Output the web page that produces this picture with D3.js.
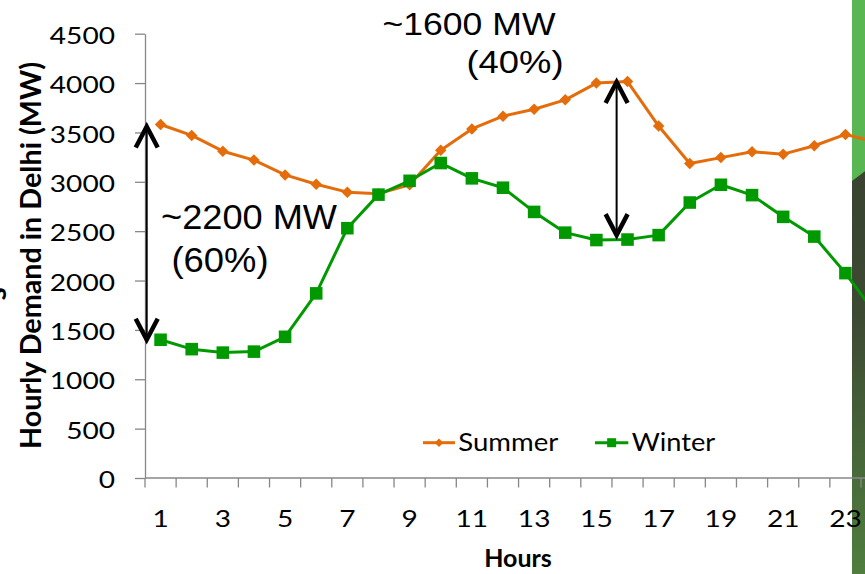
<!DOCTYPE html>
<html>
<head>
<meta charset="utf-8">
<script src="https://cdn.jsdelivr.net/npm/d3@7"></script>
<style>
  html, body { margin: 0; padding: 0; background: #ffffff; overflow: hidden; }
  svg { display: block; }
</style>
</head>
<body>
<svg id="chart" width="865" height="574"></svg>
<script>
// Hourly electricity demand in Delhi, summer vs winter (MW)
const hours = [1, 2, 3, 4, 5, 6, 7, 8, 9, 10, 11, 12, 13, 14, 15, 16, 17, 18, 19, 20, 21, 22, 23, 24];
const summer = [3580, 3470, 3310, 3220, 3070, 2975, 2895, 2880, 2970, 3320, 3535, 3665,
                3735, 3830, 4000, 4015, 3565, 3185, 3245, 3305, 3280, 3365, 3480, 3400];
const winter = [1400, 1305, 1270, 1280, 1430, 1870, 2530, 2870, 3010, 3190, 3035, 2940,
                2695, 2485, 2410, 2415, 2460, 2790, 2970, 2865, 2645, 2445, 2075, 1650];
const xTickLabels = [1, 3, 5, 7, 9, 11, 13, 15, 17, 19, 21, 23];
const yTicks = [0, 500, 1000, 1500, 2000, 2500, 3000, 3500, 4000, 4500];
const seriesNames = ["Summer", "Winter"];

// Night-time and daytime gaps between the two seasons
const nightGap = [3560, 1400];
const dayGap = [4010, 2460];
const nightGapText = ["~2200 MW", "(60%)"];
const dayGapText = ["~1600 MW", "(40%)"];

const svg = d3.select("#chart");
const ORANGE = "#E46C0A", GREEN = "#009A00", AXIS = "#878787";
const BODY_FONT = "Lato, 'Open Sans', sans-serif";
const NOTE_FONT = "'Liberation Sans', Arial, sans-serif";
const LABEL_STRETCH = 1.26;

const step = 31.13;
const x = d3.scaleBand().domain(hours).range([145, 145 + 24 * step]);
const xPos = d3.scaleLinear().domain([0.5, 24.5]).range([145, 145 + 24 * step]);
const y = d3.scaleLinear().domain([0, 4500]).range([478, 33.7]);
const xc = h => x(h) + x.bandwidth() / 2;

// Slide panel at the right edge
const defs = svg.append("defs");
const grad = defs.append("linearGradient").attr("id", "panelDark")
  .attr("x1", 0).attr("y1", 0).attr("x2", 0).attr("y2", 1);
grad.append("stop").attr("offset", "0%").attr("stop-color", "#343a2d");
grad.append("stop").attr("offset", "55%").attr("stop-color", "#3d4a33");
grad.append("stop").attr("offset", "100%").attr("stop-color", "#4f7e3e");
svg.append("rect").attr("x", 852).attr("y", 0).attr("width", 20).attr("height", 574)
  .attr("fill", "url(#panelDark)");
svg.append("path").attr("d", "M852,0 L872,0 L872,166 L852,181 Z").attr("fill", "#5ab653");

// Y axis
const yAxis = svg.append("g").attr("transform", "translate(145,0)")
  .call(d3.axisLeft(y).tickValues(yTicks).tickFormat(d3.format("d"))
    .tickSize(10).tickSizeOuter(0).tickPadding(14));
yAxis.select(".domain").attr("stroke", AXIS).attr("stroke-width", 1.3);
yAxis.selectAll(".tick line").attr("stroke", AXIS).attr("stroke-width", 1.3);
yAxis.selectAll(".tick text")
  .attr("font-family", BODY_FONT).attr("font-size", 22.3).attr("fill", "#000")
  .attr("x", -30 / LABEL_STRETCH).attr("dy", "0.43em")
  .attr("transform", `scale(${LABEL_STRETCH},1)`);

// X axis: labels on odd hours, tick marks between categories
const xAxis = svg.append("g").attr("transform", "translate(0,478)")
  .call(d3.axisBottom(x).tickValues(xTickLabels).tickSize(0).tickSizeOuter(0));
xAxis.select(".domain").attr("stroke", AXIS).attr("stroke-width", 1.3)
  .attr("d", `M145,0H${145 + 24 * step}`);
xAxis.selectAll(".tick").each(function (h) {
  const t = d3.select(this);
  t.attr("transform", null);
  t.select("text")
    .attr("font-family", BODY_FONT).attr("font-size", 22.3).attr("fill", "#000")
    .attr("x", 0).attr("y", 49.3).attr("dy", 0)
    .attr("transform", `translate(${xc(h)},0) scale(${LABEL_STRETCH},1)`);
});
const edges = hours.map(h => x(h)).concat([x.range()[1]]);
xAxis.selectAll("line.edge").data(edges).join("line").attr("class", "edge")
  .attr("x1", d => d).attr("x2", d => d).attr("y1", 0).attr("y2", 9.5)
  .attr("stroke", AXIS).attr("stroke-width", 1.3);

// Axis titles
svg.append("text")
  .attr("transform", "translate(40.5,255.5) rotate(-90)")
  .attr("text-anchor", "middle")
  .attr("font-family", BODY_FONT).attr("font-weight", 700).attr("font-size", 28)
  .attr("textLength", 387).attr("lengthAdjust", "spacingAndGlyphs")
  .text("Hourly Demand in Delhi (MW)");
svg.append("text")
  .attr("x", 518).attr("y", 567)
  .attr("text-anchor", "middle")
  .attr("font-family", BODY_FONT).attr("font-weight", 700).attr("font-size", 25)
  .text("Hours");
// edge of a neighbouring rotated label
svg.append("text")
  .attr("transform", "translate(6,294) rotate(-90)")
  .attr("text-anchor", "middle")
  .attr("font-family", BODY_FONT).attr("font-weight", 700).attr("font-size", 30)
  .text("s");

// Series lines and markers
const line = d3.line().x((d, i) => xc(hours[i])).y(d => y(d));
const diamond = d3.symbol().type(d3.symbolSquare).size(66);
const square = d3.symbol().type(d3.symbolSquare).size(158);

svg.append("path").datum(summer).attr("d", line)
  .attr("fill", "none").attr("stroke", ORANGE).attr("stroke-width", 3).attr("stroke-linejoin", "round");
svg.append("path").datum(winter).attr("d", line)
  .attr("fill", "none").attr("stroke", GREEN).attr("stroke-width", 3).attr("stroke-linejoin", "round");

svg.append("g").selectAll("path").data(summer).join("path")
  .attr("d", diamond)
  .attr("transform", (d, i) => `translate(${xc(hours[i])},${y(d)}) rotate(45)`)
  .attr("fill", ORANGE);
svg.append("g").selectAll("path").data(winter).join("path")
  .attr("d", square)
  .attr("transform", (d, i) => `translate(${xc(hours[i])},${y(d)})`)
  .attr("fill", GREEN);

// Legend
const legend = svg.append("g");
const legendItems = [
  { name: seriesNames[0], color: ORANGE, x0: 423, x1: 455, textX: 458.3, textLen: 100, marker: d3.symbol().type(d3.symbolSquare).size(36), rot: 45 },
  { name: seriesNames[1], color: GREEN, x0: 595, x1: 628.3, textX: 631.7, textLen: 83.5, marker: d3.symbol().type(d3.symbolSquare).size(81), rot: 0 }
];
legendItems.forEach(it => {
  legend.append("line").attr("x1", it.x0).attr("x2", it.x1).attr("y1", 442.7).attr("y2", 442.7)
    .attr("stroke", it.color).attr("stroke-width", 3);
  legend.append("path").attr("d", it.marker)
    .attr("transform", `translate(${(it.x0 + it.x1) / 2},442.7) rotate(${it.rot})`)
    .attr("fill", it.color);
  legend.append("text").attr("x", it.textX).attr("y", 450.7)
    .attr("font-family", BODY_FONT).attr("font-size", 24.5)
    .attr("textLength", it.textLen).attr("lengthAdjust", "spacingAndGlyphs")
    .text(it.name);
});

// Double-headed gap arrows
function gapArrow(h, vals) {
  const ax = xPos(h);
  const top = y(vals[0]), bot = y(vals[1]);
  const g = svg.append("g").attr("fill", "none").attr("stroke", "#000");
  g.append("line").attr("x1", ax).attr("x2", ax).attr("y1", top + 1).attr("y2", bot - 1)
    .attr("stroke-width", 2);
  g.append("path").attr("d", `M${ax - 11},${top + 21} L${ax},${top} L${ax + 11},${top + 21}`)
    .attr("stroke-width", 4.5).attr("stroke-linejoin", "miter");
  g.append("path").attr("d", `M${ax - 11},${bot - 21} L${ax},${bot} L${ax + 11},${bot - 21}`)
    .attr("stroke-width", 4.5).attr("stroke-linejoin", "miter");
}
gapArrow(0.555, nightGap);
gapArrow(15.65, dayGap);

// Gap annotations
function note(txt, tx, ty, size, len) {
  svg.append("text").attr("x", tx).attr("y", ty)
    .attr("font-family", NOTE_FONT).attr("font-size", size).attr("fill", "#000")
    .attr("textLength", len).attr("lengthAdjust", "spacingAndGlyphs")
    .text(txt);
}
note(nightGapText[0], 161, 229.3, 35, 176);
note(nightGapText[1], 171.5, 271.7, 35, 97);
note(dayGapText[0], 382.5, 35, 30.5, 173);
note(dayGapText[1], 466.5, 73.3, 30.5, 97);
</script>
</body>
</html>
